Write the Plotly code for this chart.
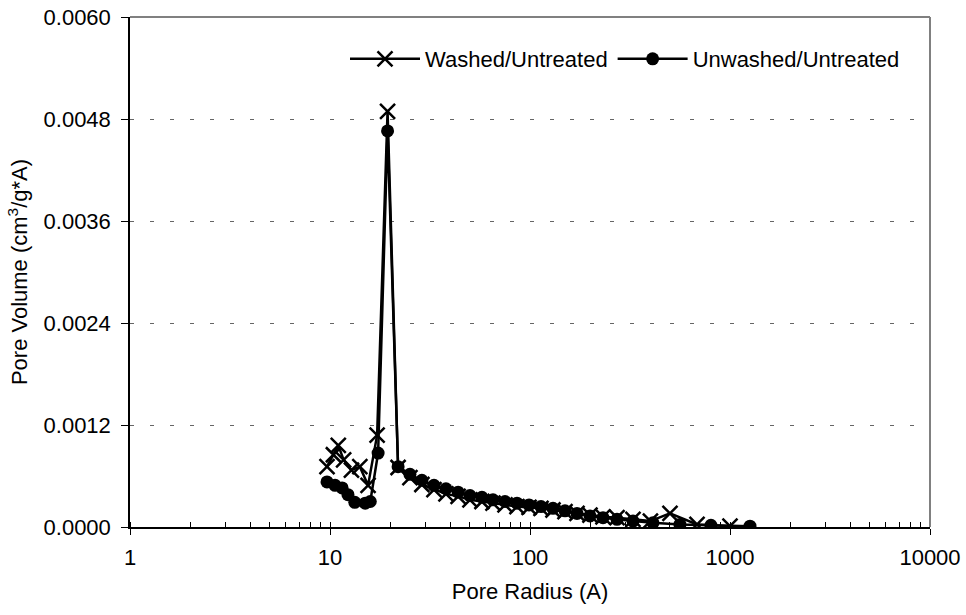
import plotly.graph_objects as go

# Pore radius (A) and pore volume (cm3/g*A)
washed_radius = [9.66, 10.4, 11.0, 11.7, 12.8, 14.1, 15.5, 17.2, 19.4, 21.9,
                 25.1, 28.8, 33.1, 38.0, 43.7, 50.1, 57.5, 65.3, 75.0, 86.1,
                 98.9, 113.5, 130.3, 149.6, 171.8, 199.5, 231.7, 272.3, 327.3,
                 400.0, 501.0, 684.0, 1000.0]
washed_volume = [0.00071, 0.00085, 0.00096, 0.00079, 0.00067, 0.00071, 0.00049, 0.00108,
                 0.00489, 0.00070, 0.00058, 0.00050, 0.00044, 0.00039, 0.00036, 0.00032,
                 0.00030, 0.00028, 0.00026, 0.00024, 0.00023, 0.00022, 0.00020, 0.00018,
                 0.00016, 0.00014, 0.00012, 0.00011, 0.00009, 0.00007, 0.00016, 0.00003,
                 0.00001]

unwashed_radius = [9.66, 10.6, 11.5, 12.3, 13.3, 15.0, 15.9, 17.4, 19.4, 21.9,
                   25.1, 28.8, 33.1, 38.0, 43.7, 50.1, 57.5, 65.3, 75.0, 86.1,
                   98.9, 113.5, 130.3, 149.6, 171.8, 199.5, 231.7, 272.3, 327.3,
                   412.0, 562.0, 803.0, 1259.0]
unwashed_volume = [0.00053, 0.00049, 0.00046, 0.00038, 0.00029, 0.00028, 0.00030, 0.00087,
                   0.00466, 0.00071, 0.00062, 0.00055, 0.00049, 0.00045, 0.00041, 0.00037,
                   0.00035, 0.00032, 0.00030, 0.00028, 0.00026, 0.00024, 0.00022, 0.00019,
                   0.00016, 0.00013, 0.00011, 0.00009, 0.00007, 0.00005, 0.00003, 0.00002,
                   0.00001]

y_ticks = [0.0, 0.0012, 0.0024, 0.0036, 0.0048, 0.0060]
x_ticks = [1, 10, 100, 1000, 10000]

FONT = "Liberation Sans, Arial, sans-serif"
FS = 22

fig = go.Figure()
fig.add_trace(go.Scatter(
    x=washed_radius, y=washed_volume, name="Washed/Untreated",
    mode="lines+markers",
    line=dict(color="black", width=2.5),
    marker=dict(symbol="x-thin", size=15, color="black",
                line=dict(color="black", width=2.5)),
))
fig.add_trace(go.Scatter(
    x=unwashed_radius, y=unwashed_volume, name="Unwashed/Untreated",
    mode="lines+markers",
    line=dict(color="black", width=2.5),
    marker=dict(symbol="circle", size=13, color="black"),
))

fig.update_layout(
    width=966, height=615,
    paper_bgcolor="white", plot_bgcolor="white",
    margin=dict(l=130, r=36, t=17, b=88, autoexpand=False),
    font=dict(family=FONT, size=FS, color="black"),
    legend=dict(orientation="h", x=(905 - 130) / 800, xanchor="right",
                y=(527 - 59) / 510, yanchor="middle",
                bgcolor="rgba(0,0,0,0)", font=dict(size=FS),
                itemwidth=70, tracegroupgap=0),
    showlegend=True,
)

fig.update_xaxes(
    type="log", range=[0, 4], automargin=False,
    tickvals=x_ticks, ticktext=[str(v) for v in x_ticks],
    ticks="outside", ticklen=6, tickcolor="black", tickwidth=1,
    showline=True, linecolor="black", linewidth=1.5,
    showgrid=False, zeroline=False,
    minor=dict(ticks="inside", ticklen=5, tickcolor="black", dtick="D1", showgrid=False),
    ticklabelstandoff=4, ticklabeloverflow="allow",
    title=dict(text="Pore Radius (A)", font=dict(size=FS), standoff=14),
    tickfont=dict(size=FS),
)
fig.update_yaxes(
    range=[0, 0.0060], automargin=False,
    tickvals=y_ticks, ticktext=[f"{v:.4f}" for v in y_ticks],
    ticks="outside", ticklen=7, tickcolor="black",
    showline=True, linecolor="black", linewidth=1.5,
    showgrid=True, gridcolor="#666666", gridwidth=1, griddash="4px,16px",
    zeroline=False,
    ticklabelstandoff=6, ticklabeloverflow="allow",
    title=dict(text="Pore Volume (cm<sup>3</sup>/g*A)", font=dict(size=FS), standoff=10),
    tickfont=dict(size=FS),
)

# gray frame on top and right of plotting area
fig.add_shape(type="line", xref="paper", yref="paper", x0=0, x1=1, y0=1, y1=1,
              line=dict(color="#808080", width=2), layer="above")
fig.add_shape(type="line", xref="paper", yref="paper", x0=1, x1=1, y0=0, y1=1,
              line=dict(color="#808080", width=2), layer="above")

fig.write_html("out.html", config={"displayModeBar": False},
               post_script="document.body.style.margin='0';")
